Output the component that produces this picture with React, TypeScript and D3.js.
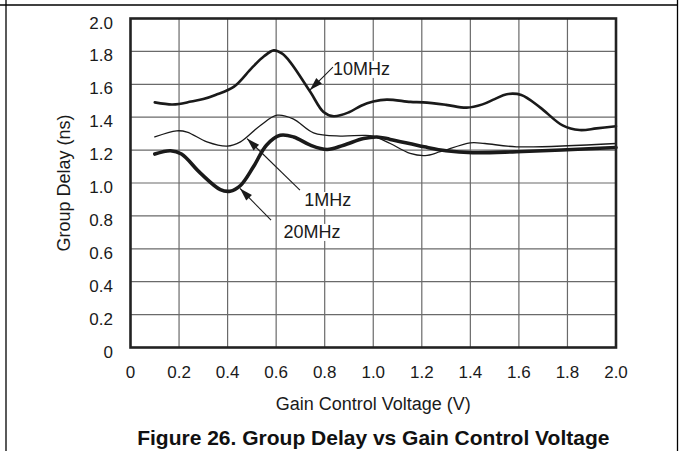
import React from "react";
import * as d3 from "d3";

const xTicks = [0, 0.2, 0.4, 0.6, 0.8, 1.0, 1.2, 1.4, 1.6, 1.8, 2.0];
const yTicks = [0, 0.2, 0.4, 0.6, 0.8, 1.0, 1.2, 1.4, 1.6, 1.8, 2.0];
const xTickLabels = ["0", "0.2", "0.4", "0.6", "0.8", "1.0", "1.2", "1.4", "1.6", "1.8", "2.0"];
const yTickLabels = ["0", "0.2", "0.4", "0.6", "0.8", "1.0", "1.2", "1.4", "1.6", "1.8", "2.0"];

const series10MHzX = [0.1, 0.17, 0.2, 0.25, 0.3, 0.35, 0.425, 0.5, 0.55, 0.59, 0.625, 0.658, 0.741, 0.795, 0.837, 0.9, 0.95, 1.0, 1.056, 1.153, 1.206, 1.3, 1.385, 1.45, 1.5, 1.55, 1.61, 1.687, 1.78, 1.85, 1.92, 2.0];
const series10MHzY = [1.49, 1.477, 1.48, 1.495, 1.51, 1.535, 1.584, 1.7, 1.77, 1.806, 1.786, 1.735, 1.553, 1.432, 1.406, 1.43, 1.47, 1.495, 1.507, 1.493, 1.49, 1.475, 1.458, 1.478, 1.51, 1.54, 1.535, 1.46, 1.35, 1.322, 1.332, 1.345];

const series1MHzX = [0.1, 0.19, 0.233, 0.315, 0.398, 0.453, 0.535, 0.604, 0.67, 0.754, 0.864, 0.96, 1.0, 1.07, 1.152, 1.214, 1.276, 1.4, 1.46, 1.59, 2.0];
const series1MHzY = [1.28, 1.317, 1.31, 1.25, 1.224, 1.25, 1.35, 1.412, 1.39, 1.305, 1.285, 1.29, 1.285, 1.24, 1.18, 1.167, 1.19, 1.244, 1.24, 1.22, 1.24];

const series20MHzX = [0.1, 0.165, 0.21, 0.288, 0.37, 0.41, 0.453, 0.507, 0.56, 0.617, 0.672, 0.741, 0.81, 0.878, 0.96, 1.015, 1.07, 1.21, 1.3, 1.41, 1.59, 2.0];
const series20MHzY = [1.176, 1.196, 1.176, 1.06, 0.96, 0.95, 0.985, 1.1, 1.23, 1.29, 1.28, 1.23, 1.204, 1.23, 1.27, 1.28, 1.265, 1.22, 1.196, 1.184, 1.19, 1.216];

const seriesNames = ["10MHz", "1MHz", "20MHz"];
const seriesWidths = [2.6, 1.3, 3.6];

// annotation: label, text anchor point (data), arrow tail (data), arrow tip (data)
const annLabels = ["10MHz", "1MHz", "20MHz"];
const annTextX = [0.834, 0.716, 0.630];
const annTextY = [1.657, 0.860, 0.666];
const annTailX = [0.834, 0.698, 0.579];
const annTailY = [1.705, 0.957, 0.775];
const annTipX = [0.739, 0.48, 0.451];
const annTipY = [1.565, 1.27, 0.967];

const W = 681;
const H = 451;
const FONT = "'Liberation Sans', Arial, Helvetica, sans-serif";

export default function App() {
  const x = d3.scaleLinear().domain([0, 2]).range([130.5, 616]);
  const y = d3.scaleLinear().domain([0, 2]).range([347.5, 18.5]);

  const seriesData = [
    series10MHzX.map((v, i) => [v, series10MHzY[i]] as [number, number]),
    series1MHzX.map((v, i) => [v, series1MHzY[i]] as [number, number]),
    series20MHzX.map((v, i) => [v, series20MHzY[i]] as [number, number]),
  ];

  const line = d3
    .line<[number, number]>()
    .x((d) => x(d[0]))
    .y((d) => y(d[1]))
    .curve(d3.curveCatmullRom.alpha(0.5));

  const arrowHead = (tx: number, ty: number, sx: number, sy: number) => {
    const dx = tx - sx;
    const dy = ty - sy;
    const len = Math.sqrt(dx * dx + dy * dy);
    const ux = dx / len;
    const uy = dy / len;
    const L = 13;
    const Wd = 4;
    const bx = tx - ux * L;
    const by = ty - uy * L;
    return `M${tx},${ty}L${bx - uy * Wd},${by + ux * Wd}L${bx + uy * Wd},${by - ux * Wd}Z`;
  };

  return (
    <svg
      width={W}
      height={H}
      style={{ position: "absolute", left: 0, top: 0, background: "#fff" }}
      fontFamily={FONT}
    >
      <rect x={0} y={0} width={W} height={H} fill="#fff" />
      {/* outer frame */}
      <line x1={0} y1={5} x2={678} y2={5} stroke="#000" strokeWidth={1.3} />
      <line x1={6} y1={0} x2={6} y2={H} stroke="#000" strokeWidth={1.3} />
      <line x1={677.5} y1={0} x2={677.5} y2={H} stroke="#000" strokeWidth={1.3} />

      {/* grid */}
      {xTicks.slice(1, -1).map((t) => (
        <line key={"gx" + t} x1={x(t)} x2={x(t)} y1={y(0)} y2={y(2)} stroke="#6a6a6a" strokeWidth={1.2} />
      ))}
      {yTicks.slice(1, -1).map((t) => (
        <line key={"gy" + t} x1={x(0)} x2={x(2)} y1={y(t)} y2={y(t)} stroke="#6a6a6a" strokeWidth={1.2} />
      ))}

      {/* label backgrounds */}
      {annLabels.map((lab, i) => {
        const tx = x(annTextX[i]);
        const ty = y(annTextY[i]);
        const w = lab.length * 11.4;
        return <rect key={"bg" + lab} x={tx - 2} y={ty - 14} width={w + 4} height={17} fill="#fff" />;
      })}

      {/* series */}
      {seriesData.map((d, i) => (
        <path key={seriesNames[i]} d={line(d) || ""} fill="none" stroke="#1a1a1a" strokeWidth={seriesWidths[i]} strokeLinejoin="round" strokeLinecap="round" />
      ))}

      {/* plot border */}
      <rect x={x(0)} y={y(2)} width={x(2) - x(0)} height={y(0) - y(2)} fill="none" stroke="#222" strokeWidth={2.6} />

      {/* annotations */}
      {annLabels.map((lab, i) => {
        const sx = x(annTailX[i]);
        const sy = y(annTailY[i]);
        const tx = x(annTipX[i]);
        const ty = y(annTipY[i]);
        return (
          <g key={"ann" + lab}>
            <line x1={sx} y1={sy} x2={tx} y2={ty} stroke="#1a1a1a" strokeWidth={1.1} />
            <path d={arrowHead(tx, ty, sx, sy)} fill="#1a1a1a" />
            <text x={x(annTextX[i])} y={y(annTextY[i])} fontSize={18} fill="#1a1a1a">
              {lab}
            </text>
          </g>
        );
      })}

      {/* y tick labels */}
      {yTicks.map((t, i) => (
        <text key={"yl" + t} x={113} y={y(t) + 10} fontSize={17} textAnchor="end" fill="#1a1a1a">
          {yTickLabels[i]}
        </text>
      ))}
      {/* x tick labels */}
      {xTicks.map((t, i) => (
        <text key={"xl" + t} x={x(t)} y={378} fontSize={17} textAnchor="middle" fill="#1a1a1a">
          {xTickLabels[i]}
        </text>
      ))}

      {/* axis titles */}
      <text x={373.3} y={410} fontSize={18} textAnchor="middle" fill="#1a1a1a">
        Gain Control Voltage (V)
      </text>
      <text transform={`translate(70,183) rotate(-90)`} fontSize={18} textAnchor="middle" fill="#1a1a1a">
        Group Delay (ns)
      </text>

      {/* caption */}
      <text x={373.3} y={445} fontSize={21} fontWeight="bold" textAnchor="middle" fill="#111">
        Figure 26. Group Delay vs Gain Control Voltage
      </text>
    </svg>
  );
}
